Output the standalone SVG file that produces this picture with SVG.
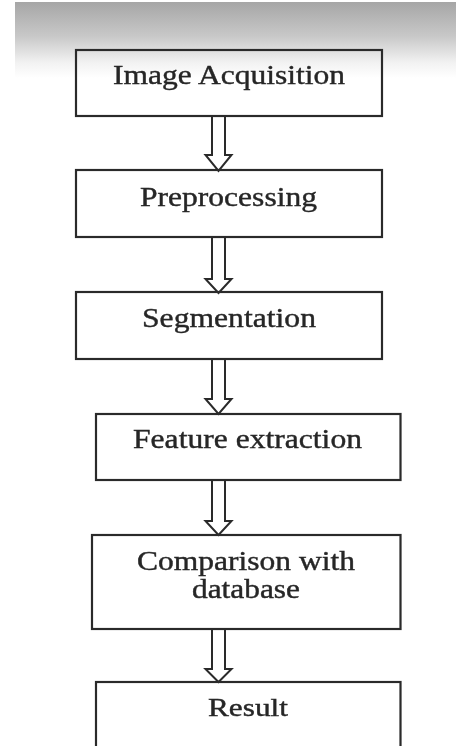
<svg xmlns="http://www.w3.org/2000/svg" width="456" height="746" viewBox="0 0 456 746">
  <defs>
    <linearGradient id="topShade" x1="0" y1="0" x2="0" y2="1">
      <stop offset="0" stop-color="#a6a6a6"/>
      <stop offset="0.45" stop-color="#c8c8c8"/>
      <stop offset="0.8" stop-color="#f2f2f2"/>
      <stop offset="1" stop-color="#ffffff"/>
    </linearGradient>
    <filter id="soft" x="-5%" y="-5%" width="110%" height="110%">
      <feGaussianBlur stdDeviation="0.55"/>
    </filter>
    <style>
      .box { fill: none; stroke: #2a2a2a; stroke-width: 2.2; }
      .arrow { fill: #ffffff; stroke: #2a2a2a; stroke-width: 2; stroke-linejoin: miter; }
      .label { font-family: "Liberation Serif", "Times New Roman", serif; font-size: 28px; fill: #262626; stroke: #262626; stroke-width: 0.4; text-anchor: middle; }
    </style>
  </defs>

  <rect x="0" y="0" width="456" height="746" fill="#ffffff"/>
  <!-- shaded header band -->
  <rect x="15" y="2" width="441" height="76" fill="url(#topShade)"/>

  <g filter="url(#soft)">
    <!-- connectors: hollow block arrows -->
    <g id="connectors">
      <polyline class="arrow" points="212,116 212,155 205.5,155 218.5,171 231.5,155 225,155 225,116"/>
      <polyline class="arrow" points="212,237 212,279 205.5,279 218.5,293 231.5,279 225,279 225,237"/>
      <polyline class="arrow" points="212,359 212,399 205.5,399 218.5,414 231.5,399 225,399 225,359"/>
      <polyline class="arrow" points="212,480 212,521 205.5,521 218.5,535 231.5,521 225,521 225,480"/>
      <polyline class="arrow" points="212,629 212,669 205.5,669 218.5,682 231.5,669 225,669 225,629"/>
    </g>

    <g id="image-acquisition">
      <rect class="box" x="76" y="50" width="306" height="66"/>
      <text class="label" x="229" y="84" textLength="232" lengthAdjust="spacingAndGlyphs">Image Acquisition</text>
    </g>

    <g id="preprocessing">
      <rect class="box" x="76" y="170" width="306" height="67"/>
      <text class="label" x="228.5" y="206" textLength="177" lengthAdjust="spacingAndGlyphs">Preprocessing</text>
    </g>

    <g id="segmentation">
      <rect class="box" x="76" y="292" width="306" height="67"/>
      <text class="label" x="229" y="327" textLength="174" lengthAdjust="spacingAndGlyphs">Segmentation</text>
    </g>

    <g id="feature-extraction">
      <rect class="box" x="96" y="414" width="304.5" height="66"/>
      <text class="label" x="247.5" y="448" textLength="229" lengthAdjust="spacingAndGlyphs">Feature extraction</text>
    </g>

    <g id="comparison">
      <rect class="box" x="92" y="535" width="308.5" height="94"/>
      <text class="label" x="246" y="570" style="font-size:27px" textLength="218" lengthAdjust="spacingAndGlyphs">Comparison with</text>
      <text class="label" x="246" y="598" style="font-size:27px" textLength="108" lengthAdjust="spacingAndGlyphs">database</text>
    </g>

    <g id="result">
      <rect class="box" x="96" y="682" width="304.5" height="80"/>
      <text class="label" x="248" y="716" style="font-size:25px" textLength="80" lengthAdjust="spacingAndGlyphs">Result</text>
    </g>
  </g>
</svg>
